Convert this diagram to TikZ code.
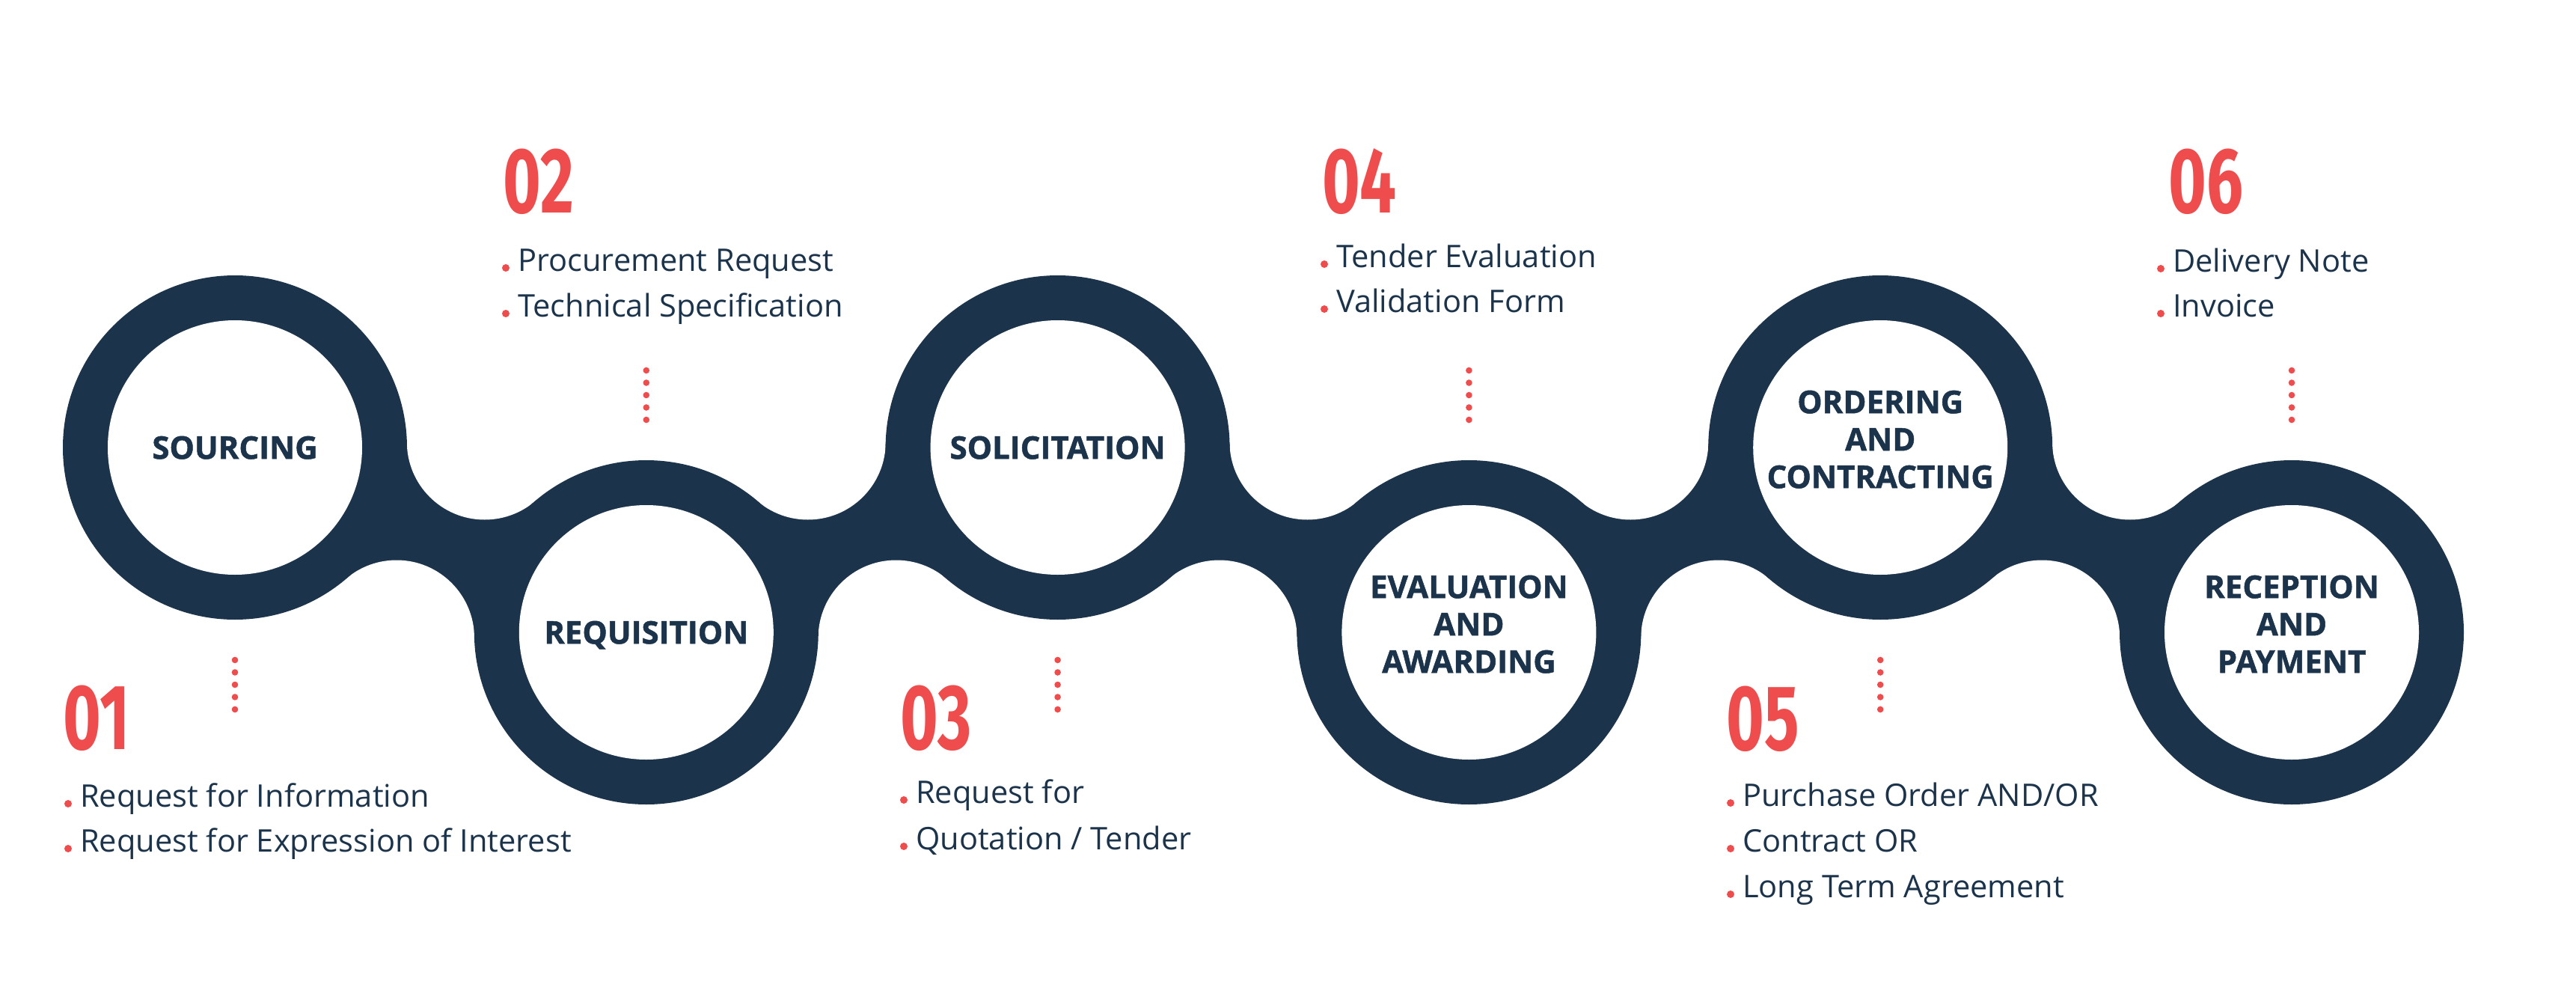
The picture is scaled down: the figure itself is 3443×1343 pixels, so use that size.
\documentclass[tikz,border=0pt]{standalone}
\usepackage{fontspec}
\usetikzlibrary{calc}
\setmainfont{Open Sans}
\newfontfamily\numfont[FakeStretch=0.7]{Fira Sans}
\newfontfamily\labelfont[FakeBold=1.2]{Open Sans Bold}
\definecolor{navy}{RGB}{28,52,75}
\definecolor{accent}{RGB}{239,77,77}

\tikzset{
  ring/.style={fill=navy},
  hole/.style={fill=white},
  stepnum/.style={font=\numfont\bfseries\fontsize{124}{124}\selectfont, text=accent, anchor=base west, inner sep=0pt},
  itemtext/.style={font=\fontsize{41.6}{50}\selectfont, text=navy, anchor=base west, inner sep=0pt},
  steplabel/.style={font=\labelfont\fontsize{42}{50}\selectfont, text=navy, align=center, inner sep=0pt, text depth=0pt},
  bullet/.style={fill=accent},
}

% one bullet line: name, ink x, baseline y, text
\newcommand\stepitem[4]{%
  \fill[bullet] ($(#2,#3)+(-19,-4)$) circle[radius=5];
  \node[itemtext] (#1) at ($(#2,#3)+(-3,0)$) {#4};}

% five dots below (+1) or above (-1) a ring
\newcommand\dotcol[2]{%
  \foreach \k in {0,...,4}
    \fill[bullet] ($(#1)+(0,#2*284+#2*16.5*\k)$) circle[radius=4.3];}

\begin{document}
\begin{tikzpicture}[x=1pt,y=-1pt]
\useasboundingbox (0,0) rectangle (3443,1343);

% ring centres, alternating high and low
\coordinate (c1) at (314,598);
\coordinate (c2) at (863.8,845);
\coordinate (c3) at (1413.6,598);
\coordinate (c4) at (1963.4,845);
\coordinate (c5) at (2513.2,598);
\coordinate (c6) at (3063,845);

% necks between neighbouring rings, hollowed by two fillet discs
\foreach \a/\b/\s in {c1/c2/1, c2/c3/-1, c3/c4/1, c4/c5/-1, c5/c6/1} {
  \coordinate (m) at ($(\a)!0.5!(\b)$);
  \coordinate (ft) at ($(m)+(\s*58.9,-131)$);
  \coordinate (fb) at ($(m)+(-\s*58.9,131)$);
  \fill[ring] (\a) -- ($(\a)!230pt!(ft)$) -- ($(\b)!230pt!(ft)$) -- (\b)
              -- ($(\b)!230pt!(fb)$) -- ($(\a)!230pt!(fb)$) -- cycle;
  \fill[hole] (ft) circle[radius=104];
  \fill[hole] (fb) circle[radius=104];
}

% rings
\foreach \c in {c1,c2,c3,c4,c5,c6} {
  \fill[ring] (\c) circle[radius=230];
  \fill[hole] (\c) circle[radius=170];
}

% stage names
\node[steplabel] (l1) at (c1) {SOURCING};
\node[steplabel] (l2) at (c2) {REQUISITION};
\node[steplabel] (l3) at (c3) {SOLICITATION};
\node[steplabel] (l4) at ($(c4)+(0,-11)$) {EVALUATION\\AND\\AWARDING};
\node[steplabel] (l5) at ($(c5)+(0,-11)$) {ORDERING\\AND\\CONTRACTING};
\node[steplabel] (l6) at ($(c6)+(0,-11)$) {RECEPTION\\AND\\PAYMENT};

% dotted leaders
\dotcol{c1}{1}
\dotcol{c2}{-1}
\dotcol{c3}{1}
\dotcol{c4}{-1}
\dotcol{c5}{1}
\dotcol{c6}{-1}

% step numbers
\node[stepnum] (n1) at (84,1001) {01};
\node[stepnum] (n2) at (672,284) {02};
\node[stepnum] (n3) at (1203,1001) {03};
\node[stepnum] (n4) at (1767,284) {04};
\node[stepnum] (n5) at (2307,1002) {05};
\node[stepnum] (n6) at (2898,284) {06};

% documents per step
\stepitem{t1a}{110}{1078}{Request for Information}
\stepitem{t1b}{110}{1138}{Request for Expression of Interest}
\stepitem{t2a}{695}{362}{Procurement Request}
\stepitem{t2b}{695}{423}{Technical Specification}
\stepitem{t3a}{1227}{1073}{Request for}
\stepitem{t3b}{1227}{1135}{Quotation / Tender}
\stepitem{t4a}{1789}{357}{Tender Evaluation}
\stepitem{t4b}{1789}{417}{Validation Form}
\stepitem{t5a}{2332}{1077}{Purchase Order AND/OR}
\stepitem{t5b}{2332}{1138}{Contract OR}
\stepitem{t5c}{2332}{1199}{Long Term Agreement}
\stepitem{t6a}{2907}{363}{Delivery Note}
\stepitem{t6b}{2907}{423}{Invoice}
\end{tikzpicture}
\end{document}
